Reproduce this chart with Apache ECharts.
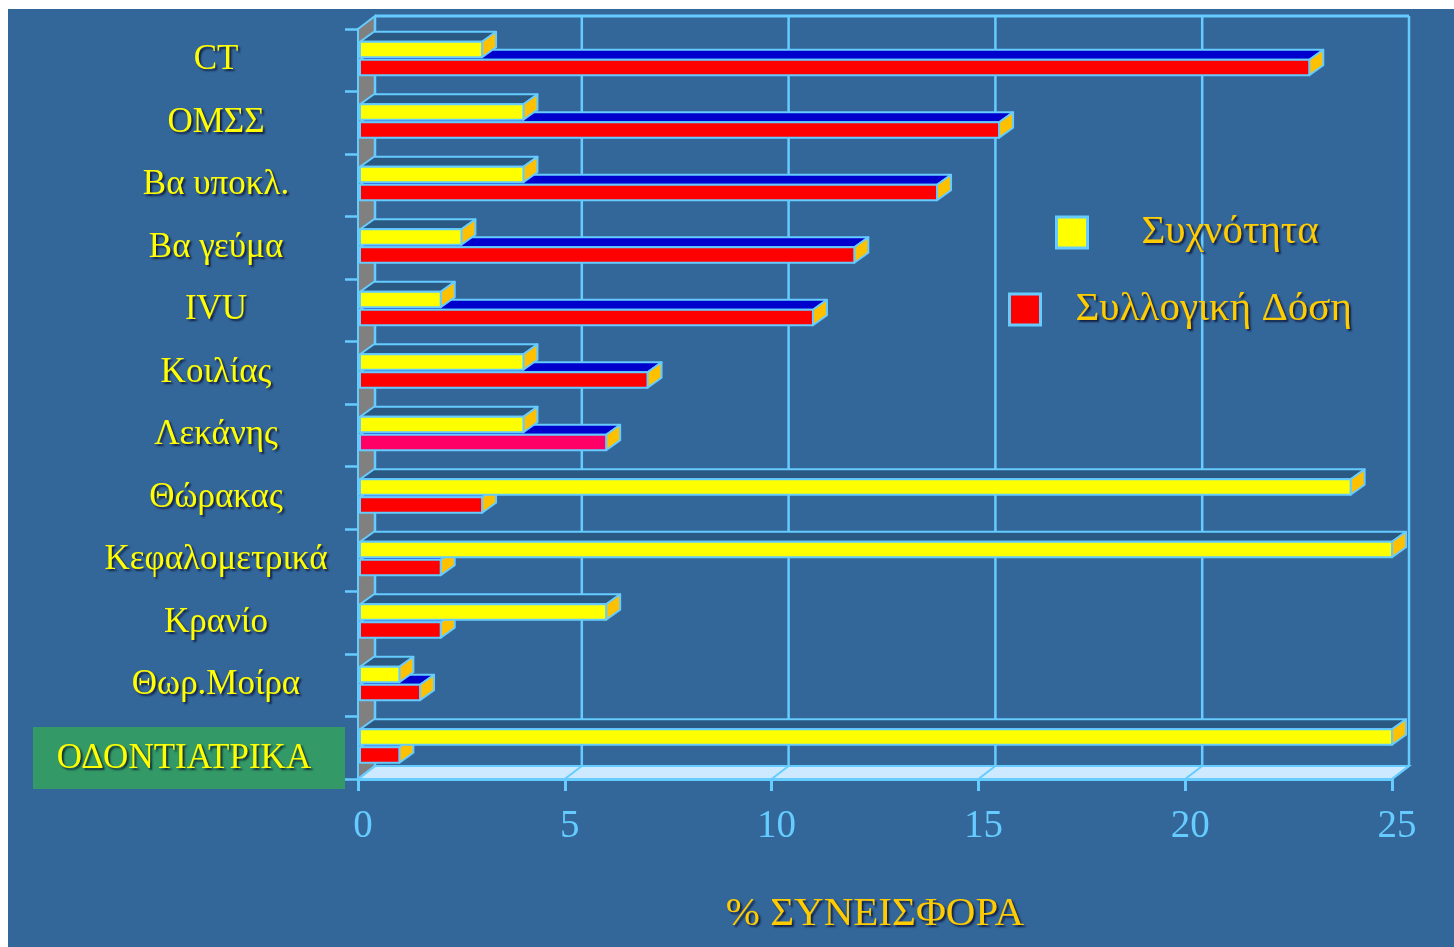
<!DOCTYPE html>
<html>
<head>
<meta charset="utf-8">
<script src="https://cdn.jsdelivr.net/npm/echarts@6/dist/echarts.min.js"></script>
<style>
  html, body { margin: 0; padding: 0; background: #ffffff; width: 1454px; height: 947px; overflow: hidden; }
  #chart { position: absolute; left: 8px; top: 9px; width: 1446px; height: 938px; }
</style>
</head>
<body>
<div id="chart"></div>
<script>
// ---- data ----
const categories = ['CT', 'ΟΜΣΣ', 'Βα υποκλ.', 'Βα γεύμα', 'IVU', 'Κοιλίας', 'Λεκάνης', 'Θώρακας', 'Κεφαλομετρικά', 'Κρανίο', 'Θωρ.Μοίρα', 'ΟΔΟΝΤΙΑΤΡΙΚΑ'];
const frequency = [3, 4, 4, 2.5, 2, 4, 4, 24, 25, 6, 1, 25];           // Συχνότητα
const collectiveDose = [23, 15.5, 14, 12, 11, 7, 6, 3, 2, 2, 1.5, 1];  // Συλλογική Δόση
const xTicks = [0, 5, 10, 15, 20, 25];
const seriesNames = ['Συχνότητα', 'Συλλογική Δόση'];
const axisTitle = '% ΣΥΝΕΙΣΦΟΡΑ';

// ---- styles ----
const BG = '#336699';
const LINE = '#66ccff';
const YELLOW = '#ffff00';
const RED = '#ff0000';
const PINK = '#ff0066';
const SIDE = '#ffc000';
const RED_TOP = '#0000cc';
const YELLOW_TOP = '#2a5a84';
const WALL = '#808080';
const FLOOR = '#cce9ff';
const GREEN = '#339966';
const SERIF = '"Liberation Serif", "DejaVu Serif", serif';
const BAR_DX = 14, BAR_DY = -10;
const WALL_DX = 17, WALL_DY = -13;
const pinkCategory = 'Λεκάνης';
const boxedCategory = 'ΟΔΟΝΤΙΑΤΡΙΚΑ';

const chart = echarts.init(document.getElementById('chart'), null, { renderer: 'canvas' });

function frameRender(params, api) {
  if (params.dataIndex !== 0) return null;
  const cs = params.coordSys;
  const X0 = cs.x, X1 = cs.x + cs.width, Y0 = cs.y, Y1 = cs.y + cs.height;
  const children = [];
  children.push({
    type: 'polygon',
    shape: { points: [[X0, Y0], [X0 + WALL_DX, Y0 + WALL_DY], [X0 + WALL_DX, Y1 + WALL_DY], [X0, Y1]] },
    style: { fill: WALL, stroke: LINE, lineWidth: 2 }
  });
  xTicks.forEach(function (v) {
    const x = api.coord([v, 0])[0] + WALL_DX;
    children.push({
      type: 'line',
      shape: { x1: x, y1: Y0 + WALL_DY, x2: x, y2: Y1 + WALL_DY },
      style: { stroke: LINE, lineWidth: 2.5 }
    });
  });
  children.push({
    type: 'line',
    shape: { x1: X0 + WALL_DX, y1: Y0 + WALL_DY, x2: X1 + WALL_DX, y2: Y0 + WALL_DY },
    style: { stroke: LINE, lineWidth: 3 }
  });
  children.push({
    type: 'polygon',
    shape: { points: [[X0, Y1], [X0 + WALL_DX, Y1 + WALL_DY], [X1 + WALL_DX, Y1 + WALL_DY], [X1, Y1]] },
    style: { fill: FLOOR, stroke: LINE, lineWidth: 2 }
  });
  xTicks.forEach(function (v) {
    const x = api.coord([v, 0])[0];
    children.push({
      type: 'line',
      shape: { x1: x, y1: Y1, x2: x + WALL_DX, y2: Y1 + WALL_DY },
      style: { stroke: LINE, lineWidth: 2 }
    });
  });
  return { type: 'group', children: children };
}

function barRender(isFreq) {
  return function (params, api) {
    const idx = api.value(1);
    const v = api.value(0);
    const start = api.coord([0, idx]);
    const end = api.coord([v, idx]);
    const band = api.size([0, 1])[1];
    const c = start[1];
    let yt, yb, fill, topFill;
    if (isFreq) {
      yt = c - band * 0.296; yb = c - band * 0.048;
      fill = YELLOW; topFill = YELLOW_TOP;
    } else {
      yt = c - band * 0.008; yb = c + band * 0.24;
      fill = categories[idx] === pinkCategory ? PINK : RED; topFill = RED_TOP;
    }
    const x0 = start[0] + 2, x1 = end[0];
    const st = { stroke: LINE, lineWidth: 2, lineJoin: 'round' };
    return {
      type: 'group',
      children: [
        { type: 'polygon', shape: { points: [[x0, yt], [x0 + BAR_DX, yt + BAR_DY], [x1 + BAR_DX, yt + BAR_DY], [x1, yt]] },
          style: Object.assign({ fill: topFill }, st) },
        { type: 'polygon', shape: { points: [[x1, yt], [x1 + BAR_DX, yt + BAR_DY], [x1 + BAR_DX, yb + BAR_DY], [x1, yb]] },
          style: Object.assign({ fill: SIDE }, st) },
        { type: 'rect', shape: { x: x0, y: yt, width: x1 - x0, height: yb - yt },
          style: Object.assign({ fill: fill }, st) }
      ]
    };
  };
}

const shadow = { textShadowColor: 'rgba(10,10,40,0.75)', textShadowBlur: 2, textShadowOffsetX: 2, textShadowOffsetY: 2 };

const option = {
  backgroundColor: BG,
  animation: false,
  grid: { left: 350, top: 20, width: 1034, height: 750, containLabel: false },
  xAxis: {
    type: 'value',
    min: xTicks[0], max: xTicks[xTicks.length - 1], interval: xTicks[1] - xTicks[0],
    axisLine: { show: true, lineStyle: { color: LINE, width: 3 } },
    axisTick: { show: true, length: 12, lineStyle: { color: LINE, width: 3 } },
    splitLine: { show: false },
    axisLabel: { color: LINE, fontSize: 39, fontFamily: SERIF, margin: 28, padding: [0, 0, 0, 10] },
    name: axisTitle,
    nameLocation: 'middle',
    nameGap: 115,
    nameTextStyle: Object.assign({ color: '#ffcc00', fontSize: 41, fontFamily: SERIF }, shadow)
  },
  yAxis: {
    type: 'category',
    inverse: true,
    data: categories,
    axisLine: { show: true, lineStyle: { color: LINE, width: 3 } },
    axisTick: { show: true, length: 13, lineStyle: { color: LINE, width: 2.5 } },
    axisLabel: Object.assign({
      color: YELLOW, fontSize: 35, fontFamily: SERIF, margin: 142, align: 'center',
      formatter: function (v) { return v === boxedCategory ? '{g|' + v + '}' : v; },
      rich: {
        g: Object.assign({ color: YELLOW, fontSize: 35, fontFamily: SERIF, padding: [22, 64, 0, 0] }, shadow)
      }
    }, shadow)
  },
  legend: [
    {
      data: [seriesNames[0]], left: 1047, top: 203, orient: 'vertical', padding: 0,
      icon: 'rect', itemWidth: 31, itemHeight: 31,
      itemStyle: { borderColor: LINE, borderWidth: 3 },
      textStyle: Object.assign({ color: '#ffcc00', fontSize: 41, fontFamily: SERIF, padding: [0, 0, 0, 49] }, shadow)
    },
    {
      data: [seriesNames[1]], left: 1000, top: 280, orient: 'vertical', padding: 0,
      icon: 'rect', itemWidth: 31, itemHeight: 31,
      itemStyle: { borderColor: LINE, borderWidth: 3 },
      textStyle: Object.assign({ color: '#ffcc00', fontSize: 41, fontFamily: SERIF, padding: [4, 0, 0, 30] }, shadow)
    }
  ],
  graphic: [
    { type: 'rect', left: 25, top: 718, z: -10, shape: { width: 312, height: 62 }, style: { fill: GREEN } }
  ],
  series: [
    {
      name: 'frame', type: 'custom', z: 1, silent: true,
      renderItem: frameRender,
      encode: { x: 0, y: 1 },
      data: [[0, 0]]
    },
    {
      name: seriesNames[1], type: 'custom', z: 2,
      itemStyle: { color: RED },
      renderItem: barRender(false),
      encode: { x: 0, y: 1 },
      data: collectiveDose.map(function (v, i) { return [v, i]; })
    },
    {
      name: seriesNames[0], type: 'custom', z: 3,
      itemStyle: { color: YELLOW },
      renderItem: barRender(true),
      encode: { x: 0, y: 1 },
      data: frequency.map(function (v, i) { return [v, i]; })
    }
  ]
};
chart.setOption(option);
</script>
</body>
</html>
